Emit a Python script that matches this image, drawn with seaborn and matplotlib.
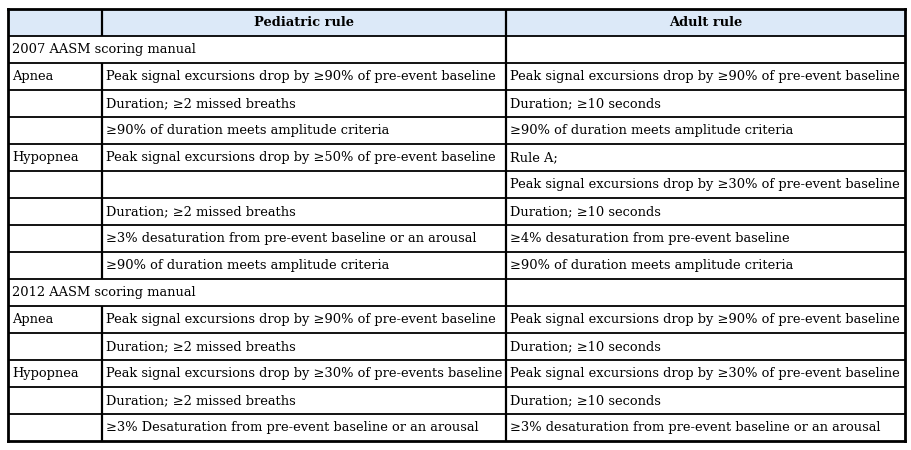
import numpy as np
import seaborn as sns
import matplotlib.pyplot as plt
from matplotlib.colors import ListedColormap

# table content
headers = ["", "Pediatric rule", "Adult rule"]
criteria = [
    "2007 AASM scoring manual", "Apnea", "", "", "Hypopnea", "", "", "", "",
    "2012 AASM scoring manual", "Apnea", "", "Hypopnea", "", "",
]
pediatric = [
    "",
    "Peak signal excursions drop by \u226590% of pre-event baseline",
    "Duration; \u22652 missed breaths",
    "\u226590% of duration meets amplitude criteria",
    "Peak signal excursions drop by \u226550% of pre-event baseline",
    "",
    "Duration; \u22652 missed breaths",
    "\u22653% desaturation from pre-event baseline or an arousal",
    "\u226590% of duration meets amplitude criteria",
    "",
    "Peak signal excursions drop by \u226590% of pre-event baseline",
    "Duration; \u22652 missed breaths",
    "Peak signal excursions drop by \u226530% of pre-events baseline",
    "Duration; \u22652 missed breaths",
    "\u22653% Desaturation from pre-event baseline or an arousal",
]
adult = [
    "",
    "Peak signal excursions drop by \u226590% of pre-event baseline",
    "Duration; \u226510 seconds",
    "\u226590% of duration meets amplitude criteria",
    "Rule A;",
    "Peak signal excursions drop by \u226530% of pre-event baseline",
    "Duration; \u226510 seconds",
    "\u22654% desaturation from pre-event baseline",
    "\u226590% of duration meets amplitude criteria",
    "",
    "Peak signal excursions drop by \u226590% of pre-event baseline",
    "Duration; \u226510 seconds",
    "Peak signal excursions drop by \u226530% of pre-event baseline",
    "Duration; \u226510 seconds",
    "\u22653% desaturation from pre-event baseline or an arousal",
]
section_rows = [0, 9]  # rows where the first cell spans two columns

col_widths = [94, 404, 399]
n_rows = len(criteria) + 1
edges = np.concatenate([[0], np.cumsum(col_widths)])

# background: header row shaded, rest white
fill = np.zeros((n_rows, edges[-1]))
fill[0, :] = 1

fig = plt.figure(figsize=(9.12, 4.5), dpi=100)
ax = fig.add_axes([8 / 912, 9 / 450, 897 / 912, 432 / 450])
sns.heatmap(fill, cmap=ListedColormap(["white", "#dce9f8"]), cbar=False,
            ax=ax, xticklabels=False, yticklabels=False)

font = dict(family="DejaVu Serif", fontsize=9.4, va="center", color="black")

# header
for j in (1, 2):
    ax.text((edges[j] + edges[j + 1]) / 2, 0.5, headers[j], ha="center",
            fontweight="bold", **font)

# body
for i in range(len(criteria)):
    y = i + 1.5
    ax.text(edges[0] + 4, y, criteria[i], ha="left", **font)
    ax.text(edges[1] + 4, y, pediatric[i], ha="left", **font)
    ax.text(edges[2] + 4, y, adult[i], ha="left", **font)

# grid lines
for r in range(1, n_rows):
    ax.hlines(r, 0, edges[-1], color="black", linewidth=1.3)
ax.vlines(edges[2], 0, n_rows, color="black", linewidth=1.6)
for r in range(n_rows):
    if r - 1 in section_rows:
        continue
    ax.vlines(edges[1], r, r + 1, color="black", linewidth=1.6)

for side in ax.spines.values():
    side.set_visible(True)
    side.set_linewidth(2)
    side.set_color("black")

plt.savefig("out.png", dpi=100)
